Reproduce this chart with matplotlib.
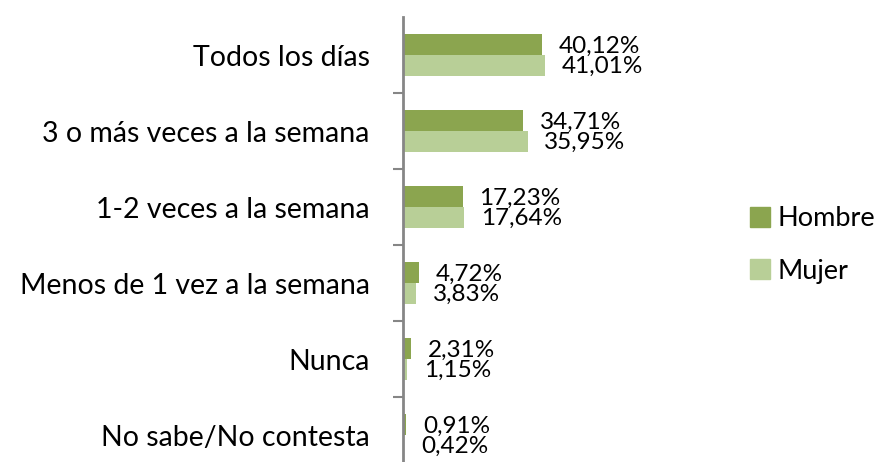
import matplotlib
matplotlib.use('Agg')
import matplotlib.pyplot as plt
from matplotlib.patches import Patch

plt.rcParams['font.family'] = ['Lato', 'DejaVu Sans']

categorias = ['Todos los días', '3 o más veces a la semana', '1-2 veces a la semana',
              'Menos de 1 vez a la semana', 'Nunca', 'No sabe/No contesta']
hombre = [40.12, 34.71, 17.23, 4.72, 2.31, 0.91]
mujer = [41.01, 35.95, 17.64, 3.83, 1.15, 0.42]

c_hombre = '#8BA54F'
c_mujer = '#B8CF97'
gris = '#868686'
fs = 20.5
fs_dat = 17.5

fig = plt.figure(figsize=(8.87, 4.62), dpi=100)
ax = fig.add_axes([403/887, -11/462, 173.5/887, 456/462])

pos = list(range(len(categorias)))
h = 0.27
ax.barh([p - h/2 for p in pos], hombre, height=h, color=c_hombre)
ax.barh([p + h/2 for p in pos], mujer, height=h, color=c_mujer)

# etiquetas de datos
for p, v in zip(pos, hombre):
    ax.annotate(f"{v:.2f}".replace('.', ',') + '%', xy=(v, p - h/2), xytext=(12, -1),
                textcoords='offset points', va='center', ha='left', fontsize=fs_dat)
for p, v in zip(pos, mujer):
    ax.annotate(f"{v:.2f}".replace('.', ',') + '%', xy=(v, p + h/2), xytext=(12, -1),
                textcoords='offset points', va='center', ha='left', fontsize=fs_dat)

ax.set_xlim(0, 50)
ax.set_ylim(len(categorias) - 0.5, -0.5)

ax.set_yticks(pos)
ax.set_yticklabels(categorias, fontsize=fs)
ax.tick_params(axis='y', which='major', length=0, pad=24)
ax.set_yticks([p + 0.5 for p in pos[:-1]], minor=True)
ax.tick_params(axis='y', which='minor', length=7, width=1.5, color=gris)
ax.set_xticks([])

for s in ['top', 'right', 'bottom']:
    ax.spines[s].set_visible(False)
ax.spines['left'].set_color(gris)
ax.spines['left'].set_linewidth(2)

handles = [Patch(color=c_hombre, label='Hombre'), Patch(color=c_mujer, label='Mujer')]
fig.legend(handles=handles, loc='center left', bbox_to_anchor=(750/887, 1 - 245/462),
           frameon=False, fontsize=19.5, handlelength=0.75, handleheight=0.75,
           handletextpad=0.25, labelspacing=1.0, borderpad=0, borderaxespad=0)

fig.savefig('out.png', dpi=100)
